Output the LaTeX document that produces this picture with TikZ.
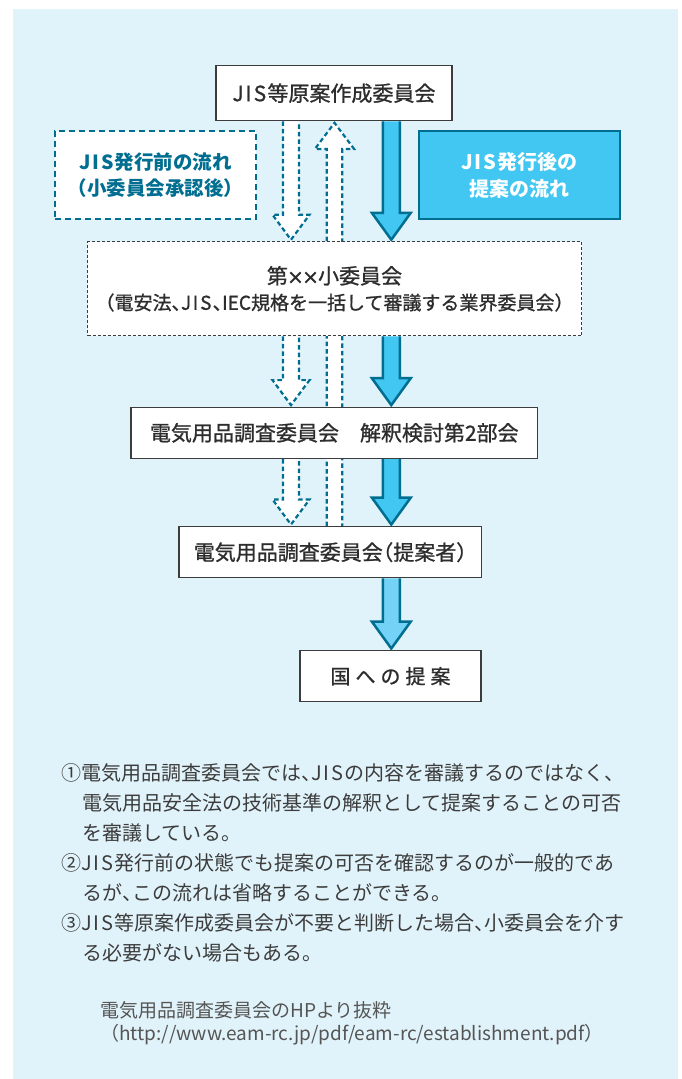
\documentclass[tikz,border=0pt]{standalone}
\usepackage{fontspec}
\setmainfont{Noto Sans CJK JP}
\newfontfamily\boxfont{Noto Sans CJK JP}[FakeBold=1]
\newfontfamily\dejavu{DejaVu Sans}[FakeBold=1]
\usetikzlibrary{calc}
\pgfdeclarelayer{bg}
\pgfsetlayers{bg,main}
\definecolor{bgblue}{RGB}{225,243,250}
\definecolor{tealdk}{RGB}{0,110,145}
\definecolor{cyanfill}{RGB}{65,199,242}
\definecolor{cyanlt}{RGB}{115,210,245}
\definecolor{boxgray}{RGB}{60,60,60}
\definecolor{textgray}{RGB}{45,45,45}
\definecolor{notegray}{RGB}{60,60,60}
\definecolor{srcgray}{RGB}{85,85,85}
\newcommand\JIS{J\kern.08em I\kern.1em S\kern.06em}
\newcommand\jcm{\makebox[0.5em][l]{、}}
\newcommand\jlp{\makebox[0.5em][r]{（}}
\newcommand\jrp{\makebox[0.5em][l]{）}}
\newcommand\smx{\makebox[0.72em]{\dejavu\fontsize{20pt}{20pt}\selectfont ×}}
% down block arrow: style, x, from node, to node, half shaft, half head, head length
\newcommand\darr[7]{\path[#1] let \p1=(#3.south), \p2=(#4.north) in
  ({(#2-#5)*1pt},\y1) -- ({(#2-#5)*1pt},{\y2+(#7+1.5)*1pt}) -- ({(#2-#6)*1pt},{\y2+(#7+1.5)*1pt})
  -- ({#2*1pt},{\y2+1.5pt}) -- ({(#2+#6)*1pt},{\y2+(#7+1.5)*1pt}) -- ({(#2+#5)*1pt},{\y2+(#7+1.5)*1pt})
  -- ({(#2+#5)*1pt},\y1);}
% up block arrow: style, x, from node (below), to node (above), half shaft, half head, head length
\newcommand\uarr[7]{\path[#1] let \p1=(#3.north), \p2=(#4.south) in
  ({(#2-#5)*1pt},\y1) -- ({(#2-#5)*1pt},{\y2-(#7+1.5)*1pt}) -- ({(#2-#6)*1pt},{\y2-(#7+1.5)*1pt})
  -- ({#2*1pt},{\y2-1.5pt}) -- ({(#2+#6)*1pt},{\y2-(#7+1.5)*1pt}) -- ({(#2+#5)*1pt},{\y2-(#7+1.5)*1pt})
  -- ({(#2+#5)*1pt},\y1);}
\begin{document}
\begin{tikzpicture}[x=1pt,y=-1pt,
  box/.style={draw=boxgray, line width=1.4pt, fill=white, minimum height=51pt, inner sep=0pt,
    text=textgray, font=\boxfont\fontsize{21pt}{25pt}\selectfont},
  midbox/.style={draw=boxgray, line width=1.1pt, dash pattern=on 3pt off 2pt, fill=white,
    inner sep=0pt, align=center, text=textgray, font=\boxfont\fontsize{20pt}{25pt}\selectfont},
  prebox/.style={draw=tealdk, line width=2.4pt, dash pattern=on 6pt off 4pt, fill=white,
    inner sep=0pt, align=center, text=tealdk, font=\fontsize{19.5pt}{26pt}\selectfont\bfseries},
  postbox/.style={draw=tealdk, line width=2.6pt, fill=cyanfill,
    inner sep=0pt, align=center, text=white, font=\fontsize{20pt}{27pt}\selectfont\bfseries},
  dasharr/.style={fill=white, draw=tealdk, line width=2.2pt, dash pattern=on 4.5pt off 3pt},
  solidarr/.style={fill=cyanfill, draw=tealdk, line width=2.5pt, line join=miter},
  note/.style={anchor=west, inner sep=0pt, text=notegray, font=\fontsize{20pt}{24pt}\selectfont},
  src/.style={anchor=west, inner sep=0pt, text=srcgray, font=\fontsize{19pt}{23pt}\selectfont}]
\useasboundingbox (0,0) rectangle (681,1079);

% boxes
\node[box, minimum width=236pt, minimum height=55pt] (top) at (334,93.2) {\JIS{}等原案作成委員会};
\node[prebox, minimum width=201pt, minimum height=88pt] (pre) at (155.5,175) {\JIS{}発行前の流れ\\（小委員会承認後）};
\node[postbox, minimum width=201pt, minimum height=88pt] (post) at (519.5,175) {\JIS{}発行後の\\提案の流れ};
\node[midbox, minimum width=494pt, minimum height=94pt] (mid) at (334.5,288.8)
  {\fontsize{21pt}{25pt}\selectfont 第\smx\smx{}小委員会\\[1pt]\fontsize{19pt}{25pt}\selectfont\jlp{}電安法\jcm{}\JIS\jcm{}IEC規格を一括して審議する業界委員会\jrp{}};
\node[box, minimum width=406.7pt] (box2) at (334.3,432.8) {電気用品調査委員会　解釈検討第2部会};
\node[box, minimum width=302.7pt] (box3) at (330.3,552.2) {電気用品調査委員会\jlp{}提案者\jrp{}};
\node[box, minimum width=181pt, font=\boxfont\fontsize{20pt}{24pt}\selectfont] (box4) at (390.5,676.2)
  {国\hspace{5pt}へ\hspace{5pt}の\hspace{5pt}提\hspace{5pt}案};

% notes
\node[note] (n1) at (61,773) {①電気用品調査委員会では\jcm{}\JIS{}の内容を審議するのではなく、};
\node[note] (n2) at (82,803) {電気用品安全法の技術基準の解釈として提案することの可否};
\node[note] (n3) at (82,833) {を審議している。};
\node[note] (n4) at (61,863) {②\JIS{}発行前の状態でも提案の可否を確認するのが一般的であ};
\node[note] (n5) at (82,893) {るが\jcm{}この流れは省略することができる。};
\node[note] (n6) at (61,923) {③\JIS{}等原案作成委員会が不要と判断した場合\jcm{}小委員会を介す};
\node[note] (n7) at (82,953) {る必要がない場合もある。};
\node[src] (s1) at (100,1010) {電気用品調査委員会のHPより抜粋};
\node[src] (s2) at (100,1035) {（http://www.eam-rc.jp/pdf/eam-rc/establishment.pdf）};

% background layer: panel and arrows
\begin{pgfonlayer}{bg}
\fill[bgblue] (12.7,9) rectangle (678,1079);
\uarr{dasharr}{334.5}{box3}{top}{7.8}{19.5}{26}
\darr{dasharr}{291}{top}{mid}{8}{18.5}{25}
\darr{dasharr}{291}{mid}{box2}{8}{18.5}{25}
\darr{dasharr}{291}{box2}{box3}{8}{18.5}{25}
\darr{solidarr}{391.3}{top}{mid}{8.5}{19.5}{27}
\darr{solidarr}{391.3}{mid}{box2}{8.5}{19.5}{27}
\darr{solidarr}{391.3}{box2}{box3}{8.5}{19.5}{27}
\darr{solidarr,fill=cyanlt}{391.3}{box3}{box4}{8.5}{19.5}{27}
\end{pgfonlayer}
\end{tikzpicture}
\end{document}
